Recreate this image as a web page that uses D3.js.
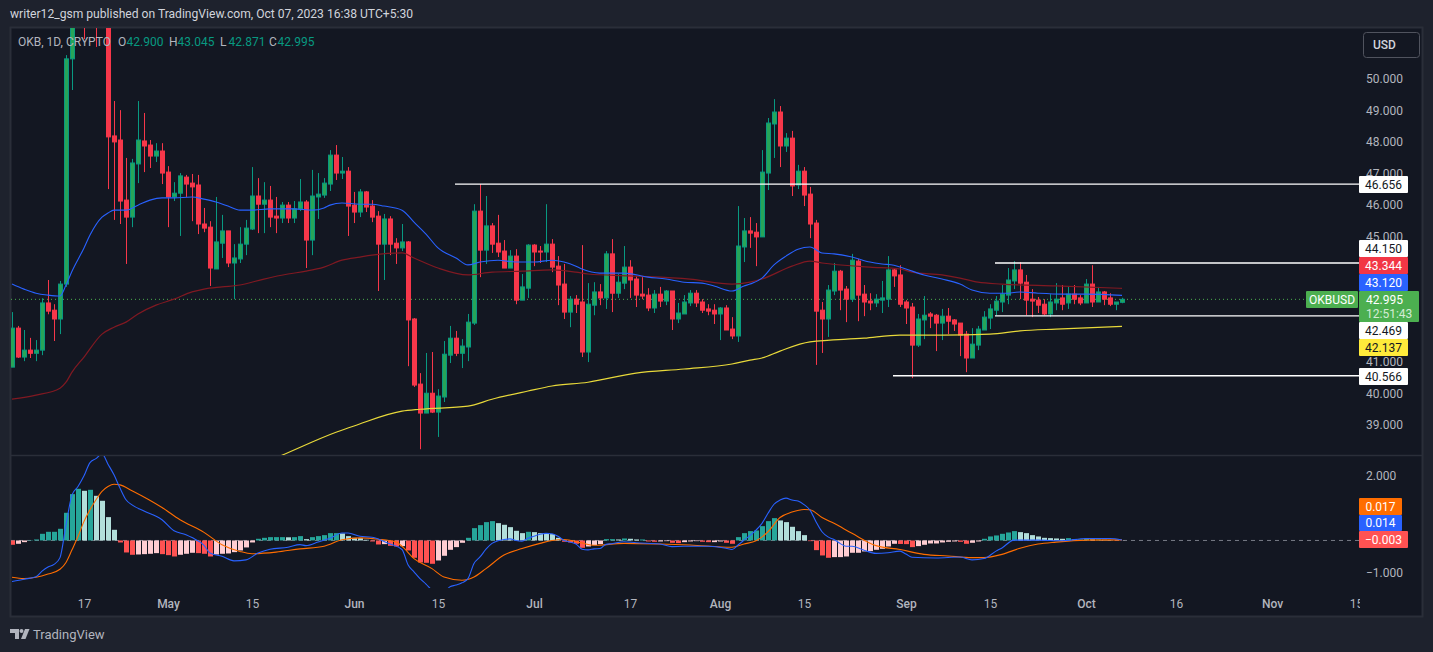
<!DOCTYPE html>
<html>
<head>
<meta charset="utf-8">
<title>OKBUSD</title>
<script src="https://cdn.jsdelivr.net/npm/d3@7"></script>
<style>
  html, body { margin: 0; padding: 0; background: #1e222d; overflow: hidden; }
  svg { display: block; }
  text { font-family: Roboto, "Noto Sans", sans-serif; }
</style>
</head>
<body>
<svg></svg>
<script>
// daily candles, day 0 is Apr 5 2023 (a few of the April ones run off the top of the pane)
let opens = [40.84,42.08,41.16,41.38,41.28,41.38,42.88,42.65,42.37,43.48,
  50.64,52.2,54.0,52.6,53.4,52.2,53.1,48.19,48.06,46.15,
  45.61,47.30,48.03,47.90,47.55,47.71,47.04,46.25,46.37,46.88,
  46.69,46.63,45.39,45.29,43.96,44.78,45.17,44.15,44.28,44.75,
  45.23,46.28,46.02,46.15,45.64,45.58,45.99,45.58,45.87,46.09,
  44.88,46.25,46.31,46.66,47.58,47.01,47.07,45.99,45.77,46.41,
  45.96,45.64,44.75,45.55,44.78,44.63,44.82,42.37,40.30,39.38,
  40.01,39.41,39.89,41.22,41.76,41.28,41.48,42.24,45.80,44.56,
  45.33,44.78,44.53,43.99,44.37,42.97,43.35,44.72,44.53,44.50,
  44.75,44.05,43.48,42.59,43.0,42.91,41.32,42.81,43.23,43.04,
  44.44,43.19,43.51,44.02,43.64,43.16,43.13,42.72,43.16,42.94,
  43.26,42.37,42.53,42.88,43.19,42.91,42.69,42.65,42.53,42.72,
  42.05,41.83,44.66,45.17,45.13,44.98,47.01,48.57,48.95,47.87,
  48.12,46.63,47.07,46.34,45.42,42.65,42.37,43.26,43.89,43.32,
  43.0,44.21,43.16,42.94,42.88,42.97,43.0,43.93,43.77,42.91,
  42.75,41.54,42.34,42.53,42.49,42.24,42.46,42.34,42.24,41.89,
  41.13,41.54,42.02,42.40,42.65,42.91,43.13,43.58,43.93,43.54,
  43.0,42.97,42.84,42.53,42.88,43.04,42.88,43.16,43.04,42.88,
  43.48,42.91,43.23,43.04,42.84,42.90]

let highs = [42.59,42.15,42.02,41.77,41.70,43.03,43.61,42.84,43.58,50.76,
  52.51,53.6,54.5,54.0,53.8,53.6,53.3,49.30,49.01,47.49,
  47.46,49.30,48.92,48.06,47.96,47.96,47.23,46.72,47.01,46.95,
  46.98,46.95,45.90,45.48,46.25,45.68,45.17,44.75,45.29,45.52,
  47.20,46.85,46.72,46.60,46.25,46.09,46.09,46.12,46.82,46.15,
  47.11,47.01,46.85,47.74,47.90,47.52,47.20,46.41,46.50,46.44,
  46.15,45.80,45.71,45.64,44.94,45.39,44.85,42.40,40.65,41.29,
  41.32,40.14,41.67,42.15,41.99,41.73,42.53,46.02,46.66,46.28,
  45.42,45.68,44.88,44.56,44.59,43.80,44.75,44.75,44.69,46.02,
  44.91,44.37,44.12,43.10,43.13,44.72,43.51,43.54,43.48,44.53,
  44.91,43.80,44.69,44.24,43.74,43.70,43.35,43.29,43.39,43.29,
  43.26,42.88,43.13,43.29,43.29,43.0,42.84,42.84,42.75,42.81,
  42.43,45.96,45.58,45.61,45.42,47.74,48.76,49.36,49.14,48.28,
  48.35,47.27,47.20,46.57,45.52,42.91,43.45,44.15,43.93,43.42,
  44.44,44.28,43.45,43.19,43.16,43.58,44.37,43.99,44.08,42.97,
  42.88,42.53,43.10,42.59,42.53,42.69,42.72,42.37,42.24,41.99,
  42.08,42.15,42.62,42.84,43.10,43.45,43.99,44.21,44.18,43.77,
  43.32,43.07,43.0,43.16,43.51,43.45,43.39,43.45,43.13,43.64,
  44.08,43.39,43.26,43.19,42.91,43.045]

let lows = [40.84,41.13,41.03,41.13,41.03,41.22,42.52,41.67,41.89,43.39,
  49.65,52.0,51.27,52.1,51.02,51.62,46.50,45.52,45.39,44.12,
  45.29,46.69,47.04,47.17,47.36,46.66,45.29,46.12,45.01,46.25,
  45.48,45.07,45.13,43.42,43.96,44.31,44.02,43.0,44.15,44.40,
  45.20,45.10,45.10,45.29,45.10,45.42,45.42,45.42,45.80,43.99,
  44.40,45.55,46.22,46.44,46.79,46.82,45.01,45.42,45.61,45.77,
  45.45,43.26,43.61,44.40,44.12,44.53,40.87,40.21,38.23,39.38,
  39.38,38.62,39.73,40.97,41.19,40.81,41.03,42.18,43.70,44.12,
  44.47,44.34,43.99,43.99,42.84,42.97,43.04,44.05,44.15,44.18,
  43.86,42.81,42.37,42.11,42.56,41.16,41.0,42.49,42.81,42.69,
  42.59,43.04,43.32,43.04,42.75,43.0,42.62,42.56,42.75,42.81,
  42.02,42.24,42.53,42.78,42.75,42.56,42.49,42.21,41.70,42.02,
  41.73,41.64,44.18,44.63,44.05,44.98,46.47,47.49,47.20,47.68,
  46.28,46.50,45.96,44.94,40.91,41.29,41.80,43.13,42.65,42.27,
  42.91,42.30,42.46,42.65,42.75,42.56,42.75,43.39,42.75,42.21,
  40.49,41.48,41.73,42.08,41.35,41.70,41.89,41.99,41.19,40.68,
  41.13,41.38,42.02,42.05,42.49,42.59,42.84,43.32,43.0,42.49,
  42.43,42.56,42.49,42.43,42.65,42.65,42.69,42.84,42.81,42.88,
  42.75,42.91,42.81,42.78,42.65,42.871]

let closes = [42.08,41.16,41.38,41.28,41.38,42.88,42.62,42.37,43.48,50.64,
  52.19,53.0,52.6,53.4,52.2,53.1,48.16,48.0,46.12,45.61,
  47.33,48.06,47.87,47.55,47.71,47.01,46.25,46.37,46.92,46.66,
  46.57,45.39,45.26,43.99,44.82,45.17,44.15,44.31,44.75,45.26,
  46.28,46.02,46.15,45.61,45.58,45.99,45.58,45.87,46.09,44.88,
  46.28,46.34,46.69,47.58,47.01,47.07,45.96,45.77,46.41,45.93,
  45.61,44.75,45.55,44.75,44.63,44.82,42.34,40.27,39.38,40.01,
  39.41,39.92,41.25,41.76,41.28,41.51,42.27,45.80,44.56,45.33,
  44.75,44.50,43.99,44.37,42.97,43.39,44.72,44.50,44.50,44.75,
  44.02,43.45,42.59,43.0,42.84,41.32,42.84,43.23,43.04,44.44,
  43.19,43.54,44.02,43.61,43.13,43.10,42.72,43.16,42.94,43.26,
  42.37,42.56,42.91,43.19,42.88,42.65,42.62,42.53,42.72,42.02,
  41.83,44.69,45.17,45.10,44.98,47.04,48.60,48.95,47.87,48.12,
  46.60,47.07,46.31,45.39,42.62,42.37,43.29,43.89,43.29,43.0,
  44.24,43.13,42.91,42.88,43.0,43.04,43.93,43.74,42.84,42.72,
  41.54,42.37,42.49,42.46,42.24,42.46,42.30,42.21,41.86,41.13,
  41.57,42.05,42.43,42.69,42.94,43.16,43.61,43.93,43.51,42.97,
  42.94,42.81,42.53,42.91,43.0,42.84,43.16,43.0,42.88,43.48,
  42.91,43.23,43.0,42.84,42.91,42.995]

let blueDays = [0,2,4,6,8,9,10,12,13,15,16,17,19,21,23,25,27,30,32,34,36,38,40,43,47,50,52,53,55,58,60,62,65,67,69,71,74,76,78,81,84,87,90,92,94,95,98,102,106,109,112,115,117,120,122,123,125,127,129,131,133,135,137,140,143,145,147,149,152,155,158,160,163,166,168,171,175,179,185]
let blueVals = [43.48,43.32,43.19,43.13,43.10,43.45,43.89,44.63,45.04,45.61,45.74,45.83,45.83,45.99,46.15,46.22,46.22,46.25,46.18,46.09,45.96,45.83,45.83,45.87,45.87,45.83,45.90,45.99,46.06,46.02,46.02,45.96,45.83,45.45,45.07,44.63,44.31,44.09,44.18,44.24,44.18,44.18,44.24,44.18,44.05,43.96,43.83,43.83,43.70,43.64,43.54,43.51,43.42,43.26,43.42,43.48,43.67,44.09,44.37,44.59,44.66,44.47,44.44,44.34,44.18,44.12,44.08,43.96,43.77,43.64,43.48,43.29,43.19,43.19,43.23,43.19,43.16,43.16,43.12]
let redDays = [0,4,8,9,10,12,15,17,19,21,24,27,30,32,35,38,42,46,49,52,55,58,60,65,67,71,76,80,85,90,94,96,103,113,120,123,125,130,133,135,143,148,150,155,158,161,165,174,185]
let redVals = [39.82,39.95,40.17,40.36,40.68,41.16,41.89,42.11,42.27,42.53,42.81,43.00,43.23,43.32,43.39,43.45,43.64,43.80,43.89,44.02,44.24,44.34,44.40,44.47,44.31,43.99,43.77,43.86,43.89,43.93,43.86,43.80,43.74,43.64,43.48,43.54,43.64,44.05,44.21,44.15,44.02,43.96,43.86,43.77,43.67,43.54,43.48,43.42,43.344]
let yellowDays = [43,45,54,57,65,68,76,80,86,90,96,104,112,120,123,125,128,133,142,148,155,163,168,174,185]
let yellowVals = [37.88,38.04,38.77,38.97,39.44,39.50,39.60,39.82,40.08,40.24,40.36,40.65,40.78,40.94,41.06,41.13,41.35,41.64,41.76,41.86,41.86,41.89,41.99,42.05,42.137]

// hand drawn levels: [first day, price]
let levelDays = [74,164,164,147]
let levelPrices = [46.656,44.150,42.469,40.566]

// MACD pane
let histVals = [-.134,-.103,-.052,.010,.031,.206,.268,.268,.361,.856,
  1.433,1.598,1.536,1.567,1.381,1.227,.722,.330,-.062,-.371,
  -.443,-.433,-.423,-.412,-.392,-.423,-.454,-.495,-.443,-.412,
  -.381,-.392,-.412,-.495,-.433,-.412,-.402,-.361,-.309,-.216,
  -.062,.052,.082,.103,.103,.103,.098,.103,.134,.041,
  .103,.134,.165,.227,.227,.216,.134,.082,.072,.021,
  -.031,-.124,-.113,-.165,-.186,-.175,-.309,-.536,-.680,-.691,
  -.722,-.619,-.474,-.289,-.206,-.072,.082,.381,.474,.567,
  .598,.536,.485,.412,.299,.227,.268,.258,.227,.216,
  .196,.082,-.041,-.062,-.103,-.227,-.186,-.144,-.113,.041,
  .041,.031,.062,.052,.031,.031,-.031,-.041,-.031,-.021,
  -.072,-.082,-.052,-.031,-.021,-.041,-.052,-.052,-.031,-.072,
  -.103,.103,.227,.289,.309,.443,.598,.691,.619,.567,
  .423,.289,.165,-.021,-.299,-.464,-.536,-.515,-.515,-.495,
  -.381,-.381,-.340,-.330,-.289,-.258,-.186,-.103,-.108,-.113,
  -.206,-.175,-.134,-.093,-.093,-.062,-.041,-.031,-.041,-.103,
  -.072,-.031,.052,.124,.155,.206,.247,.289,.258,.227,
  .165,.124,.082,.072,.062,.052,.072,.031,.031,.062,
  .031,.031,.021,.010,-.010,-.003]

let macdDays = [0,2,4,5,6,7,8,9,10,11,12,13,14,15,16,17,18,19,20,22,25,27,29,30,32,33,35,37,39,41,43,46,48,49,51,53,55,56,58,60,63,65,66,67,68,69,70,71,72,73,74,75,76,77,78,79,80,81,82,83,84,85,86,87,88,89,90,91,92,93,94,95,96,97,98,99,100,102,104,108,110,112,116,119,120,121,122,124,125,126,127,128,129,130,131,132,133,134,135,136,137,138,139,140,142,144,146,148,149,150,154,158,160,162,164,165,167,171,175,179,183,185]
let macdVals = [-1.27,-1.20,-1.12,-.95,-.82,-.74,-.53,.48,1.41,1.67,2.00,2.41,2.53,2.68,2.36,2.03,1.62,1.26,1.10,.91,.64,.30,.18,.09,-.15,-.39,-.49,-.63,-.60,-.39,-.27,-.21,-.13,-.16,-.05,.07,.23,.23,.13,.10,-.11,-.28,-.75,-.97,-1.18,-1.35,-1.54,-1.69,-1.62,-1.43,-1.38,-1.31,-1.18,-.71,-.51,-.27,-.09,-.01,.03,.05,0,-.02,.07,.13,.19,.22,.21,.13,0,-.05,-.11,-.27,-.29,-.26,-.25,-.12,-.10,-.04,-.07,-.11,-.19,-.18,-.18,-.24,-.28,-.14,.01,.32,.53,.84,1.12,1.25,1.31,1.25,1.22,1.11,.94,.58,.27,.11,.03,-.09,-.18,-.18,-.30,-.40,-.38,-.33,-.42,-.52,-.54,-.51,-.60,-.56,-.33,-.23,.01,.01,-.01,.06,.06,.014]
let signalDays = [0,2,4,6,8,9,10,11,12,13,14,15,16,17,18,20,25,28,32,35,38,40,44,48,52,55,58,61,64,65,67,70,72,75,77,79,82,85,88,90,92,95,97,102,108,113,120,122,124,126,128,130,132,133,135,137,140,144,148,152,156,160,162,165,168,171,174,179,185]
let signalVals = [-1.14,-1.18,-1.14,-1.04,-.89,-.68,-.29,.12,.59,.95,1.26,1.52,1.67,1.74,1.72,1.54,1.02,.64,.25,-.13,-.34,-.41,-.36,-.26,-.18,.02,.08,.04,-.05,-.18,-.56,-.87,-1.13,-1.23,-1.13,-.87,-.45,-.25,-.09,0,.03,-.08,-.15,-.09,-.11,-.14,-.21,-.11,-.01,.27,.71,.88,.96,.95,.71,.53,.22,-.16,-.28,-.43,-.48,-.53,-.53,-.43,-.24,-.11,-.05,.01,.017]

// time axis
let tickDays = [12,26,40,57,71,87,103,118,132,149,163,179,194,210,224]
let tickLabels = ['17','May','15','Jun','15','Jul','17','Aug','15','Sep','15','Oct','16','Nov','15']
let monthLabels = ['May','Jun','Jul','Aug','Sep','Oct','Nov']

let priceTicks = [39,40,41,45,46,47,48,49,50]
let macdTicks = [2,-1]

// legend text
let symbolText = 'OKB, 1D, CRYPTO'
let ohlcLetters = ['O','H','L','C']
let ohlcValues = ['42.900','43.045','42.871','42.995']

let width = 1433
let height = 652

let svg = d3.select('svg').attr('width', width).attr('height', height)

let xScale = d3.scaleLinear().domain([0,224]).range([12,1356])
let yScale = d3.scaleLinear().domain([39,50]).range([425,79])
let macdScale = d3.scaleLinear().domain([-1,2]).range([572.8,475.8])

let upBody = '#27a558'
let upLine = '#089981'
let downColor = '#f7374a'
let fmt = d3.format('.3f')

let defs = svg.append('defs')
defs.append('clipPath').attr('id','mainClip').append('rect').attr('x',11).attr('y',28).attr('width',1349).attr('height',427)
defs.append('clipPath').attr('id','macdClip').append('rect').attr('x',11).attr('y',456).attr('width',1349).attr('height',132)
// time axis group is translated, so this one is in its local coords
defs.append('clipPath').attr('id','timeClip').append('rect').attr('x',11).attr('y',-9).attr('width',1349).attr('height',26)

let drawFrame = () => {
  svg.append('rect').attr('width',width).attr('height',height).attr('fill','#1e222d')
  svg.append('rect').attr('x',10.5).attr('y',27.5).attr('width',1412).attr('height',589)
    .attr('fill','#131722').attr('stroke','#2a2e39').attr('stroke-width',2)
  svg.append('line').attr('x1',11).attr('x2',1422).attr('y1',455.5).attr('y2',455.5)
    .attr('stroke','#2a2e39').attr('stroke-width',1.5)
  svg.append('text').attr('x',10).attr('y',18).attr('fill','#d1d4dc').attr('font-size',12.1)
    .text('writer12_gsm published on TradingView.com, Oct 07, 2023 16:38 UTC+5:30')
}

let drawCandles = () => {
  let g = svg.append('g').attr('clip-path','url(#mainClip)')
  let days = d3.range(opens.length)
  // last price line goes under the candles
  g.append('line').attr('x1',11).attr('x2',1305)
    .attr('y1',yScale(closes[185])).attr('y2',yScale(closes[185]))
    .attr('stroke','#4caf50').attr('stroke-dasharray','1 3')
  g.selectAll('line.wick').data(days).enter().append('line')
    .attr('class','wick')
    .attr('x1',d => xScale(d)+.5).attr('x2',d => xScale(d)+.5)
    .attr('y1',d => yScale(highs[d])).attr('y2',d => yScale(lows[d]))
    .attr('stroke',d => closes[d] >= opens[d] ? upLine : downColor)
  g.selectAll('rect.body').data(days).enter().append('rect')
    .attr('class','body')
    .attr('x',d => xScale(d)-1.5).attr('width',4)
    .attr('y',d => yScale(Math.max(opens[d],closes[d])))
    .attr('height',d => Math.max(1,Math.abs(yScale(opens[d])-yScale(closes[d]))))
    .attr('fill',d => closes[d] >= opens[d] ? upBody : downColor)
    .attr('stroke',d => closes[d] >= opens[d] ? upLine : downColor)
  return g
}

let drawAverages = (g) => {
  let ma = (dayList, vals, color, w) => {
    let line = d3.line().x((d,i) => xScale(dayList[i])).y(d => yScale(d)).curve(d3.curveMonotoneX)
    g.append('path').datum(vals).attr('d',line).attr('fill','none').attr('stroke',color).attr('stroke-width',w)
  }
  ma(yellowDays, yellowVals, '#e8d93a', 1.2)
  ma(redDays, redVals, '#801922', 1.2)
  ma(blueDays, blueVals, '#2962ff', 1.1)
}

let drawLevels = (g) => {
  g.selectAll('line.level').data(levelPrices).enter().append('line')
    .attr('class','level')
    .attr('x1',(d,i) => xScale(levelDays[i])-1).attr('x2',1360)
    .attr('y1',d => yScale(d)).attr('y2',d => yScale(d))
    .attr('stroke','#ffffff').attr('stroke-width',1.3)
}

let drawMacd = () => {
  let g = svg.append('g').attr('clip-path','url(#macdClip)')
  g.append('line').attr('x1',11).attr('x2',1360).attr('y1',macdScale(0)).attr('y2',macdScale(0))
    .attr('stroke','#787b86').attr('stroke-dasharray','4 4')
  let barColor = (v,i) => {
    let prev = i > 0 ? histVals[i-1] : 0
    if (v >= 0) return v >= prev ? '#26a69a' : '#b2dfdb'
    return v < prev ? '#ff5252' : '#ffcdd2'
  }
  g.selectAll('rect').data(histVals).enter().append('rect')
    .attr('x',(d,i) => xScale(i)-2).attr('width',5)
    .attr('y',d => macdScale(Math.max(0,d)))
    .attr('height',d => Math.abs(macdScale(d)-macdScale(0)))
    .attr('fill',(d,i) => barColor(d,i))
  let line = (dayList) => d3.line().x((d,i) => xScale(dayList[i])).y(d => macdScale(d)).curve(d3.curveMonotoneX)
  g.append('path').datum(signalVals).attr('d',line(signalDays)).attr('fill','none').attr('stroke','#ff6d00').attr('stroke-width',1.1)
  g.append('path').datum(macdVals).attr('d',line(macdDays)).attr('fill','none').attr('stroke','#2962ff').attr('stroke-width',1.1)
}

let drawAxes = () => {
  let priceAxis = d3.axisRight(yScale).tickValues(priceTicks).tickSize(0).tickPadding(0).tickFormat(fmt)
  let macdAxis = d3.axisRight(macdScale).tickValues(macdTicks).tickSize(0).tickPadding(0).tickFormat(fmt)
  let timeAxis = d3.axisBottom(xScale).tickValues(tickDays).tickSize(0).tickPadding(0)
    .tickFormat((d,i) => tickLabels[i])

  ;[svg.append('g').attr('transform','translate(1366,0)').call(priceAxis),
    svg.append('g').attr('transform','translate(1366,0)').call(macdAxis),
    svg.append('g').attr('transform','translate(0,599)').attr('clip-path','url(#timeClip)').call(timeAxis)
  ].forEach(a => {
    a.select('.domain').remove()
    a.selectAll('text').attr('fill','#b2b5be').attr('font-size',12).attr('font-family','Roboto, sans-serif')
  })
  svg.selectAll('.tick text').filter(function() { return monthLabels.includes(this.textContent) })
    .attr('font-weight',500)
}

// label boxes down the price scale, stacked as TradingView stacks them
let drawLabels = () => {
  let box = (txt, x, y, w, h, fill, color) => {
    svg.append('rect').attr('x',x).attr('y',y).attr('width',w).attr('height',h).attr('rx',1).attr('fill',fill)
    svg.append('text').attr('x',x+w/2).attr('y',y+h/2+4.2).attr('text-anchor','middle')
      .attr('fill',color).attr('font-size',12).text(txt)
  }
  box(fmt(levelPrices[0]),1359,176,49,17,'#ffffff','#131722')
  box(fmt(levelPrices[1]),1359,240,49,17,'#ffffff','#131722')
  box(fmt(redVals[redVals.length-1]),1359,257,49,17,'#f23645','#ffffff')
  box(fmt(blueVals[blueVals.length-1]),1359,274,49,17,'#2962ff','#ffffff')
  box(fmt(levelPrices[2]),1359,322,49,17,'#ffffff','#131722')
  box(fmt(yellowVals[yellowVals.length-1]),1359,339,49,17,'#ffeb3b','#131722')
  box(fmt(levelPrices[3]),1359,368,49,17,'#ffffff','#131722')

  svg.append('rect').attr('x',1359).attr('y',291).attr('width',60).attr('height',31).attr('rx',1).attr('fill','#4caf50')
  svg.append('text').attr('x',1366).attr('y',303.5).attr('fill','#ffffff').attr('font-size',12).text(fmt(closes[185]))
  svg.append('text').attr('x',1366).attr('y',318).attr('fill','#d4ecd5').attr('font-size',12).text('12:51:43')
  box('OKBUSD',1306,291,52,17,'#4caf50','#ffffff')

  box(fmt(signalVals[signalVals.length-1]),1359,498,43,17,'#ff6d00','#ffffff')
  box(fmt(macdVals[macdVals.length-1]),1359,515,43,16,'#2962ff','#ffffff')
  box('\u2212' + fmt(Math.abs(histVals[histVals.length-1])),1359,531,49,17,'#ff5252','#ffffff')

  // currency button
  svg.append('rect').attr('x',1363.5).attr('y',32.5).attr('width',56).attr('height',25).attr('rx',3)
    .attr('fill','#131722').attr('stroke','#50535e')
  svg.append('text').attr('x',1373).attr('y',49).attr('fill','#d1d4dc').attr('font-size',12).attr('font-weight',500).text('USD')
}

let drawLegend = () => {
  svg.append('text').attr('x',18).attr('y',46).attr('fill','#b2b5be').attr('font-size',12).text(symbolText)
  let letterX = [118,169,220,269]
  ohlcLetters.forEach((l,i) => {
    svg.append('text').attr('x',letterX[i]).attr('y',46).attr('fill','#b2b5be').attr('font-size',12).text(l)
    svg.append('text').attr('x',letterX[i]+8.5).attr('y',46).attr('fill','#089981').attr('font-size',12).text(ohlcValues[i])
  })
}

let drawLogo = () => {
  let g = svg.append('g').attr('fill','#b2b5be')
  g.append('path').attr('d','M10 629h9v10h-4v-6h-5z')
  g.append('circle').attr('cx',21.5).attr('cy',631).attr('r',2)
  g.append('path').attr('d','M25 629h4.5l-4 10h-4.5z')
  svg.append('text').attr('x',33).attr('y',639).attr('fill','#b2b5be').attr('font-size',13).text('TradingView')
}

drawFrame()
let mainG = drawCandles()
drawAverages(mainG)
drawLevels(mainG)
drawMacd()
drawAxes()
drawLabels()
drawLegend()
drawLogo()
</script>
</body>
</html>
